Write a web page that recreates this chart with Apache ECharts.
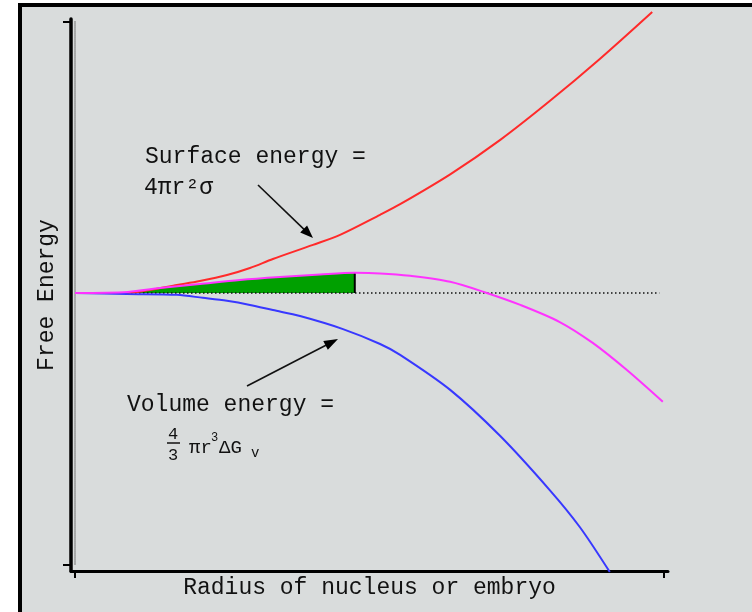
<!DOCTYPE html>
<html><head><meta charset="utf-8">
<script src="https://cdn.jsdelivr.net/npm/echarts@6/dist/echarts.min.js"></script>
<style>html,body{margin:0;padding:0;background:#fff}#c{width:752px;height:612px}</style>
</head><body><div id="c"></div>
<script>
// ---- data (radius in arbitrary units, energy in arbitrary units) ----
const surfaceR = [0, 0.42, 0.88, 1.27, 1.73, 2.12, 2.58, 2.97, 3.36, 4.04, 4.50, 5.18, 5.52, 6.37, 7.22, 8.06, 8.91, 9.80];
const surfaceE = [0, 0, 0, 0.11, 0.29, 0.44, 0.66, 0.92, 1.25, 1.77, 2.14, 2.88, 3.27, 4.37, 5.64, 7.07, 8.62, 10.35];

const volumeR = [0, 0.88, 1.73, 2.17, 2.58, 2.97, 3.36, 3.82, 4.55, 5.18, 5.52, 6.37, 7.22, 8.06, 8.57, 9.08];
const volumeE = [0, -0.04, -0.07, -0.18, -0.29, -0.44, -0.63, -0.85, -1.33, -1.88, -2.28, -3.57, -5.27, -7.26, -8.62, -10.28];

const totalR = [0, 0.90, 1.44, 2.12, 2.80, 3.48, 4.16, 4.75, 5.18, 5.69, 6.37, 6.99, 7.56, 8.23, 8.79, 9.37, 9.98];
const totalE = [0, 0.04, 0.18, 0.33, 0.48, 0.59, 0.68, 0.74, 0.72, 0.63, 0.41, 0, -0.44, -1.07, -1.84, -2.84, -4.01];

const criticalR = 4.75;           // r* (green region ends here)
const zeroLineEnd = 9.92;
const xTicks = [0, 10];
const yTicks = [-10, 10];

const xName = 'Radius of nucleus or embryo';
const yName = 'Free Energy';

// ---- build ----
const zip = (a, b) => a.map((v, i) => [v, b[i]]);
const surface = zip(surfaceR, surfaceE);
const volume = zip(volumeR, volumeE);
const total = zip(totalR, totalE);
const greenPart = total.filter(p => p[0] <= criticalR);
const critE = totalE[totalR.indexOf(criticalR)];

const MONO = '"Liberation Mono", "DejaVu Sans Mono", monospace';

function arrow(x1, y1, x2, y2, len, w) {
  const dx = x2 - x1, dy = y2 - y1, L = Math.hypot(dx, dy), ux = dx / L, uy = dy / L;
  const bx = x2 - ux * len, by = y2 - uy * len;
  return [
    {type: 'line', z: 100, shape: {x1: x1, y1: y1, x2: bx + ux * 2, y2: by + uy * 2}, style: {stroke: '#111', lineWidth: 1.6}},
    {type: 'polygon', z: 100, shape: {points: [[x2, y2], [bx - uy * w / 2, by + ux * w / 2], [bx + uy * w / 2, by - ux * w / 2]]}, style: {fill: '#000'}}
  ];
}

const chart = echarts.init(document.getElementById('c'), null, {renderer: 'canvas'});
const txt = (x, y, s, size, extra) => Object.assign({
  type: 'text', z: 100, x: x, y: y,
  style: Object.assign({text: s, fill: '#111', font: size + 'px ' + MONO, verticalAlign: 'middle', align: 'left'}, extra || {})
});
const curve = {symbol: 'none', smooth: 0.3, clip: false};

chart.setOption({
  backgroundColor: '#d9dcdc',
  animation: false,
  grid: {left: 71, right: 84, top: 19, bottom: 41, containLabel: false, outerBoundsMode: 'none'},
  xAxis: {
    type: 'value', min: -0.068, max: 10.068,
    axisLine: {onZero: false, lineStyle: {color: '#000', width: 3}},
    axisTick: {show: true, customValues: xTicks, length: 7, lineStyle: {color: '#000', width: 2}},
    axisLabel: {show: false}, splitLine: {show: false},
    name: xName, nameLocation: 'middle', nameGap: 5,
    nameTextStyle: {fontFamily: MONO, fontSize: 23, color: '#111'}
  },
  yAxis: {
    type: 'value', min: -10.24, max: 10.09,
    axisLine: {onZero: false, lineStyle: {color: '#000', width: 3.5}},
    axisTick: {show: true, customValues: yTicks, length: 8, lineStyle: {color: '#000', width: 2}},
    axisLabel: {show: false}, splitLine: {show: false},
    name: yName, nameLocation: 'middle', nameGap: 13,
    nameTextStyle: {fontFamily: MONO, fontSize: 23, color: '#111'}
  },
  series: [
    {type: 'line', data: [[0, yTicks[0]], [0, yTicks[1]]], symbol: 'none', silent: true,
     lineStyle: {color: '#555', width: 1.5, type: [1, 1]}},
    {type: 'line', data: [[0, 0], [zeroLineEnd, 0]], symbol: 'none', silent: true,
     lineStyle: {color: '#111', width: 1.5, type: [1.5, 2.5]}},
    Object.assign({type: 'line', data: greenPart, silent: true,
     lineStyle: {width: 0}, areaStyle: {color: '#00a000', opacity: 1, origin: 0}}, curve, {clip: true}),
    {type: 'line', data: [[criticalR, 0], [criticalR, critE]], symbol: 'none', silent: true,
     lineStyle: {color: '#000', width: 2}},
    Object.assign({type: 'line', data: surface, lineStyle: {color: '#ff2a2a', width: 2}}, curve),
    Object.assign({type: 'line', data: volume, lineStyle: {color: '#3838ff', width: 2}}, curve),
    Object.assign({type: 'line', data: total, lineStyle: {color: '#ff33ff', width: 2}}, curve)
  ],
  graphic: [
    {type: 'rect', z: 100, shape: {x: 0, y: 0, width: 18, height: 612}, style: {fill: '#fff'}},
    {type: 'rect', z: 100, shape: {x: 18, y: 0, width: 734, height: 3}, style: {fill: '#fff'}},
    {type: 'rect', z: 101, shape: {x: 18, y: 3, width: 4, height: 609}, style: {fill: '#000'}},
    {type: 'rect', z: 101, shape: {x: 18, y: 3, width: 734, height: 4}, style: {fill: '#000'}},
    txt(145, 157, 'Surface energy =', 23),
    txt(144, 188, '4πr²σ', 23),
    ...arrow(258, 185, 313, 238, 13, 10),
    txt(127, 405, 'Volume energy =', 23),
    txt(173, 434, '4', 17, {align: 'center'}),
    {type: 'line', z: 100, shape: {x1: 167, y1: 443, x2: 180, y2: 443}, style: {stroke: '#111', lineWidth: 1.5}},
    txt(173, 455, '3', 17, {align: 'center'}),
    txt(189, 448, 'πr', 19),
    txt(211, 438, '3', 12),
    txt(219, 448, 'ΔG', 19),
    txt(251, 453, 'v', 14),
    ...arrow(247, 386, 338, 339, 14, 10)
  ]
});
</script>
</body></html>
